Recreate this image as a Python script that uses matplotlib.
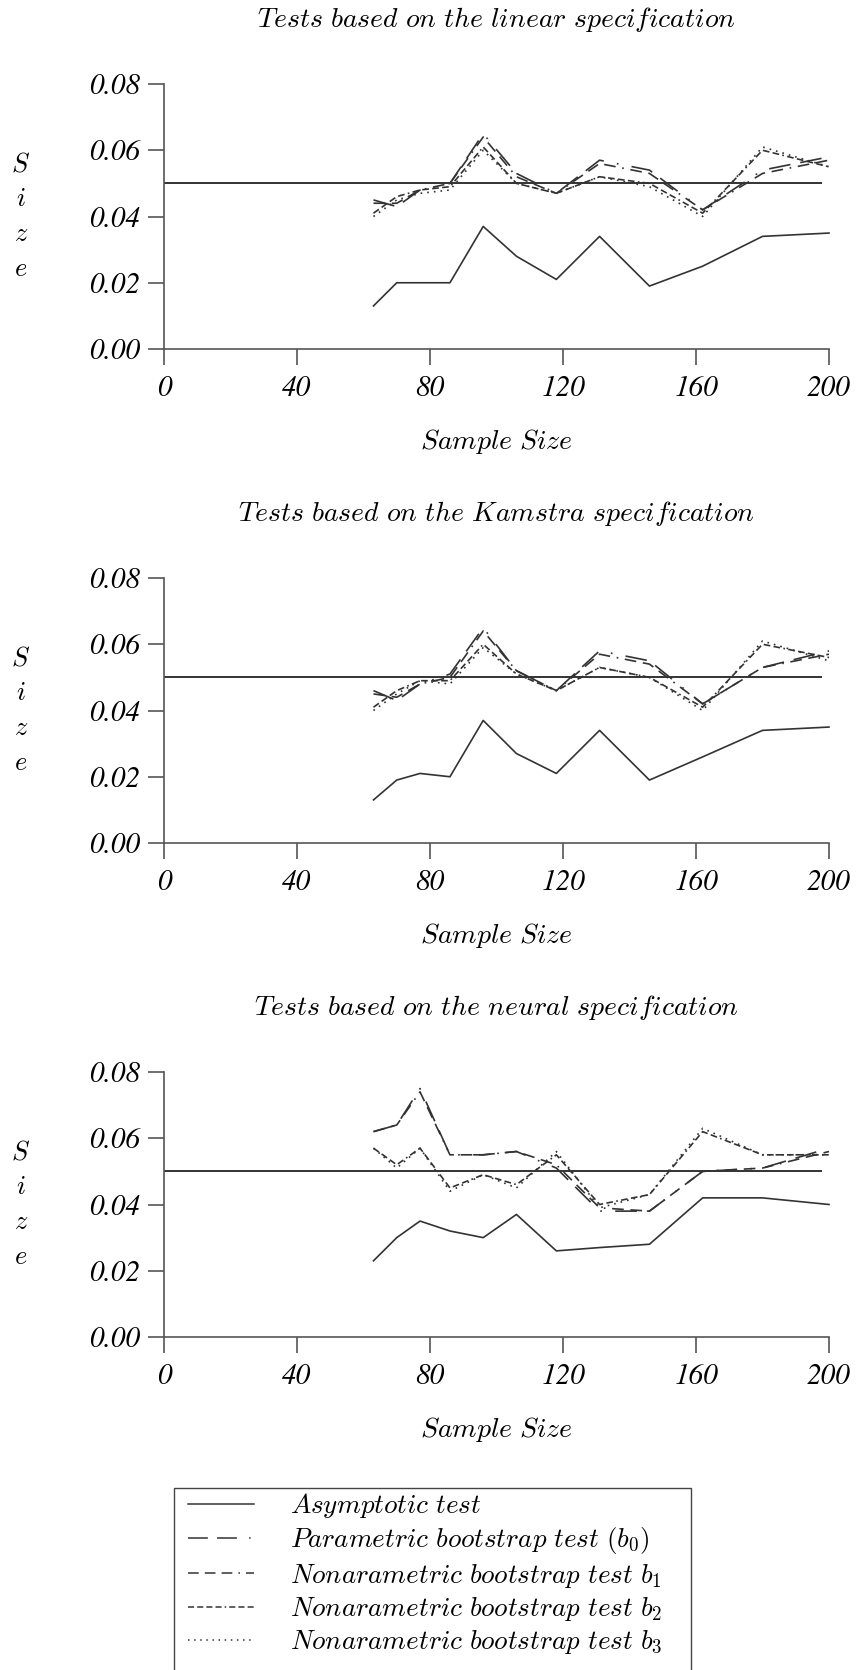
import numpy as np
import matplotlib
matplotlib.use("Agg")
from matplotlib import pyplot as plt
from matplotlib.lines import Line2D
from matplotlib.patches import Rectangle

plt.rcParams['mathtext.fontset'] = 'cm'

# sample sizes on the x axis
sample_sizes = [63, 70, 77, 86, 96, 106, 118, 131, 146, 162, 180, 200]

titles = ['Tests based on the linear specification',
          'Tests based on the Kamstra specification',
          'Tests based on the neural specification']

nominal = 0.05

# linear specification
lin_asym = [0.013, 0.020, 0.020, 0.020, 0.037, 0.028, 0.021, 0.034, 0.019, 0.025, 0.034, 0.035]
lin_b0 = [0.045, 0.043, 0.048, 0.050, 0.065, 0.053, 0.047, 0.057, 0.054, 0.042, 0.054, 0.058]
lin_b1 = [0.044, 0.044, 0.048, 0.050, 0.064, 0.052, 0.047, 0.056, 0.053, 0.042, 0.053, 0.057]
lin_b2 = [0.041, 0.046, 0.048, 0.049, 0.061, 0.050, 0.047, 0.052, 0.050, 0.041, 0.060, 0.055]
lin_b3 = [0.040, 0.045, 0.047, 0.048, 0.060, 0.050, 0.047, 0.052, 0.049, 0.040, 0.061, 0.055]

# Kamstra specification
kam_asym = [0.013, 0.019, 0.021, 0.020, 0.037, 0.027, 0.021, 0.034, 0.019, 0.026, 0.034, 0.035]
kam_b0 = [0.046, 0.043, 0.048, 0.051, 0.065, 0.052, 0.046, 0.058, 0.055, 0.042, 0.053, 0.058]
kam_b1 = [0.045, 0.044, 0.048, 0.050, 0.064, 0.052, 0.046, 0.057, 0.054, 0.042, 0.053, 0.057]
kam_b2 = [0.041, 0.046, 0.049, 0.049, 0.060, 0.051, 0.046, 0.053, 0.050, 0.041, 0.060, 0.056]
kam_b3 = [0.040, 0.045, 0.049, 0.048, 0.059, 0.051, 0.046, 0.053, 0.050, 0.040, 0.061, 0.055]

# neural specification
neu_asym = [0.023, 0.030, 0.035, 0.032, 0.030, 0.037, 0.026, 0.027, 0.028, 0.042, 0.042, 0.040]
neu_b0 = [0.062, 0.064, 0.075, 0.055, 0.055, 0.056, 0.051, 0.038, 0.038, 0.050, 0.051, 0.057]
neu_b1 = [0.062, 0.064, 0.074, 0.055, 0.055, 0.056, 0.052, 0.039, 0.038, 0.050, 0.051, 0.056]
neu_b2 = [0.057, 0.052, 0.057, 0.045, 0.049, 0.046, 0.055, 0.040, 0.043, 0.062, 0.055, 0.055]
neu_b3 = [0.057, 0.051, 0.057, 0.044, 0.049, 0.045, 0.056, 0.039, 0.043, 0.063, 0.055, 0.055]

panels = [
    [lin_asym, lin_b0, lin_b1, lin_b2, lin_b3],
    [kam_asym, kam_b0, kam_b1, kam_b2, kam_b3],
    [neu_asym, neu_b0, neu_b1, neu_b2, neu_b3],
]

labels = [r'$Asymptotic\ test$',
          r'$Parametric\ bootstrap\ test\ (b_0)$',
          r'$Nonarametric\ bootstrap\ test\ b_1$',
          r'$Nonarametric\ bootstrap\ test\ b_2$',
          r'$Nonarametric\ bootstrap\ test\ b_3$']
styles = ['-',
          (0, (13, 6, 13, 8, 1, 8)),
          (0, (7, 4, 7, 4, 7, 4, 1, 4)),
          (0, (4, 2, 4, 2, 4, 2, 4, 2, 1, 2)),
          (0, (1, 3))]

xticks = [0, 40, 80, 120, 160, 200]
yticks = [0.00, 0.02, 0.04, 0.06, 0.08]

W, H = 857, 1670
fig = plt.figure(figsize=(W / 100, H / 100), dpi=100)

line_col = '#333333'
axis_col = '#555555'
tick_font = dict(family='STIXGeneral', style='italic', size=21)

zero_y = [349, 843, 1337]  # pixel row of the 0.00 line for each panel
ax_h = 265
for k, series in enumerate(panels):
    bottom = 1 - zero_y[k] / H
    ax = fig.add_axes([164 / W, bottom, 665 / W, ax_h / H])
    ax.set_xlim(0, 200)
    ax.set_ylim(0, 0.08)
    ax.hlines(nominal, 0, 198, color=line_col, lw=1.4)
    for vals, ls in zip(series, styles):
        ax.plot(sample_sizes, vals, color=line_col, lw=1.2, linestyle=ls, clip_on=False)

    for s in ['top', 'right']:
        ax.spines[s].set_visible(False)
    for s in ['left', 'bottom']:
        ax.spines[s].set_color(axis_col)
        ax.spines[s].set_linewidth(1.2)
    ax.set_xticks(xticks)
    ax.set_yticks(yticks)
    ax.set_xticklabels([str(v) for v in xticks], fontdict=tick_font)
    ax.set_yticklabels(['%.2f' % v for v in yticks], fontdict=tick_font)
    ax.tick_params(direction='out', length=11.5, width=1.2, color=axis_col, pad=8)
    ax.tick_params(axis='y', pad=6)

    ax.text(0.5, 1 + 65 / ax_h, '$' + titles[k].replace(' ', r'\ ') + '$',
            transform=ax.transAxes, ha='center', va='center', fontsize=20)
    ax.text(0.5, -93 / ax_h, r'$Sample\ Size$', transform=ax.transAxes,
            ha='center', va='center', fontsize=20)
    ax.text(-143 / 665, 0.5, '$S$\n$i$\n$z$\n$e$', transform=ax.transAxes,
            ha='center', va='center', fontsize=19, linespacing=1.45)

# legend box runs past the bottom edge of the figure
fig.patches.append(Rectangle((174 / W, -0.01), 517 / W, 0.01 + 1 - 1488 / H,
                             transform=fig.transFigure, fill=False,
                             edgecolor='#444444', lw=1.0))

handles = [Line2D([], [], color=line_col, lw=1.1, linestyle=ls) for ls in styles]
leg = fig.legend(handles, labels, loc='upper left',
                 bbox_to_anchor=(188 / W, 1 - 1491 / H),
                 fontsize=19.5, frameon=False,
                 borderaxespad=0, borderpad=0, labelspacing=0.2,
                 handlelength=2.45, handletextpad=1.3)

fig.savefig('out.png', dpi=100)
